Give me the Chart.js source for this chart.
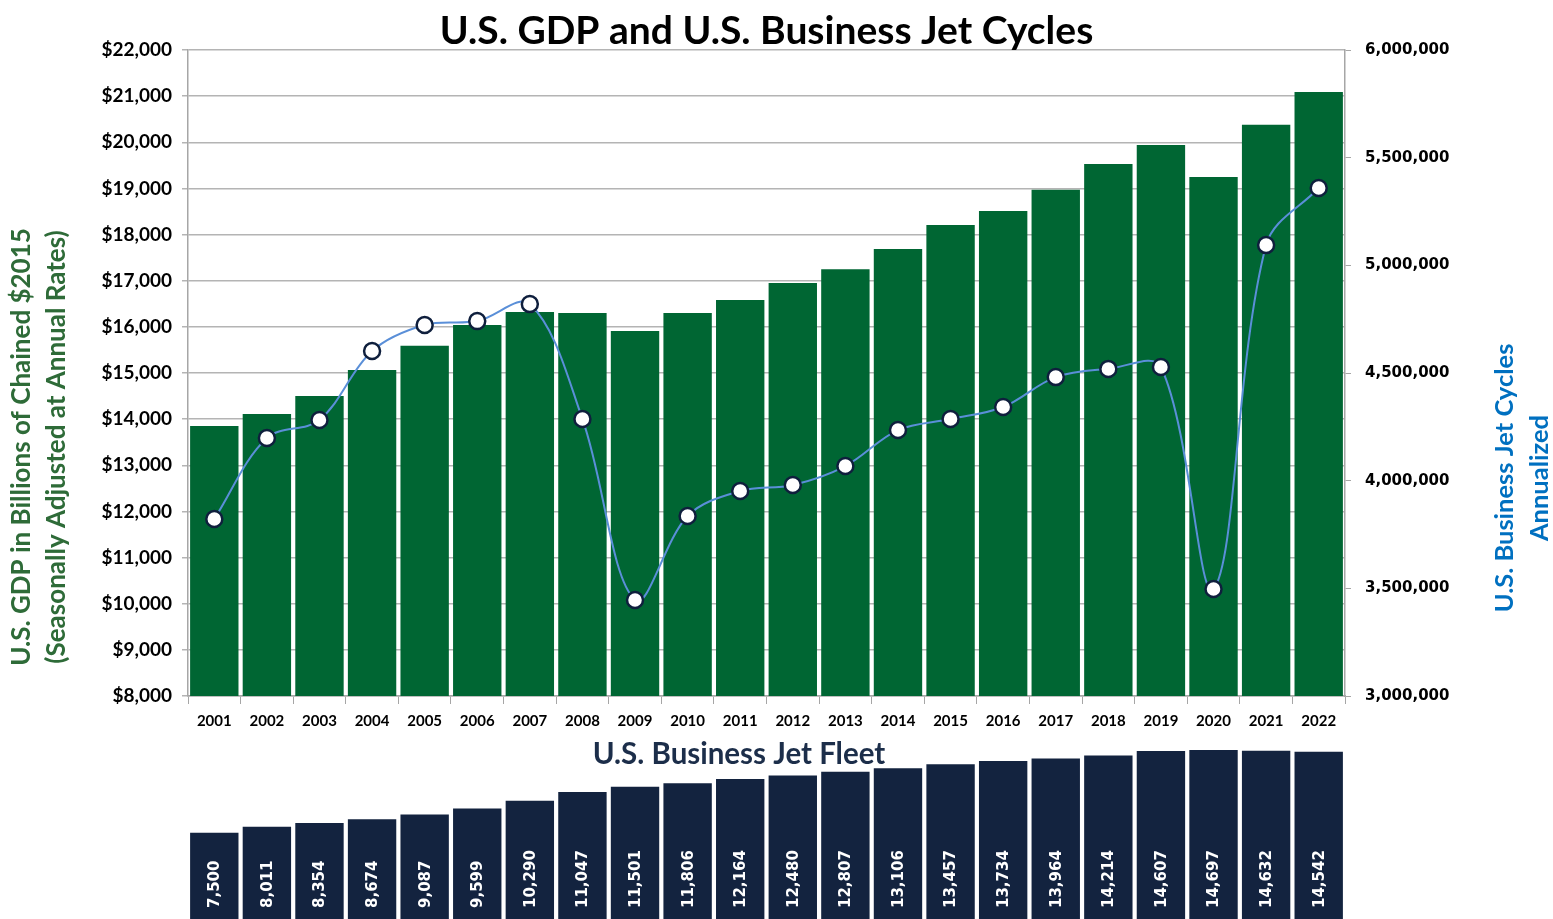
<!DOCTYPE html>
<html>
<head>
<meta charset="utf-8">
<script src="https://cdn.jsdelivr.net/npm/chart.js@4.4.1/dist/chart.umd.min.js"></script>
<style>
  html, body { margin: 0; padding: 0; background: #ffffff; }
  #wrap { position: relative; width: 1553px; height: 919px; overflow: hidden; background: #fff; }
  #c1 { position: absolute; left: 0; top: 0; }
  #c2 { position: absolute; left: 0; top: 730px; }
</style>
</head>
<body>
<div id="wrap">
  <canvas id="c2" width="1553" height="189"></canvas>
  <canvas id="c1" width="1553" height="740"></canvas>
</div>
<script>
// ---- Data ----
const years = ['2001','2002','2003','2004','2005','2006','2007','2008','2009','2010','2011',
               '2012','2013','2014','2015','2016','2017','2018','2019','2020','2021','2022'];
const gdpBillions = [13850, 14110, 14500, 15065, 15590, 16040, 16320, 16300, 15910, 16300, 16580,
                     16950, 17250, 17690, 18210, 18510, 18970, 19530, 19940, 19250, 20380, 21090];
const jetCycles = [3822000, 4198000, 4282000, 4602000, 4723000, 4741000, 4820000, 4286000, 3446000, 3836000, 3952000,
                   3980000, 4068000, 4235000, 4286000, 4342000, 4481000, 4519000, 4528000, 3497000, 5094000, 5359000];
const jetFleet = [7500, 8011, 8354, 8674, 9087, 9599, 10290, 11047, 11501, 11806, 12164,
                  12480, 12807, 13106, 13457, 13734, 13964, 14214, 14607, 14697, 14632, 14542];

const chartTitle = 'U.S. GDP and U.S. Business Jet Cycles';
const leftTitle = ['U.S. GDP in Billions of Chained $2015', '(Seasonally Adjusted at Annual Rates)'];
const rightTitle = ['U.S. Business Jet Cycles', 'Annualized'];
const fleetTitle = 'U.S. Business Jet Fleet';

const CAL = 'Lato, "Open Sans", sans-serif';
const fmt = v => Number(v).toLocaleString('en-US');

// ---- plugin: rotated axis titles for chart 1 ----
const axisTitles = {
  id: 'axisTitles',
  afterDraw(chart) {
    const ctx = chart.ctx;
    const a = chart.chartArea;
    ctx.save();
    ctx.font = 'bold 26px ' + CAL;
    ctx.textAlign = 'center';
    ctx.textBaseline = 'middle';
    // left title
    ctx.fillStyle = '#2E6B38';
    leftTitle.forEach((t, i) => {
      ctx.save();
      ctx.translate(a.left - 166 + i * 35, 447);
      ctx.rotate(-Math.PI / 2);
      ctx.fillText(t, 0, 0);
      ctx.restore();
    });
    // right title
    ctx.font = 'bold 25.5px ' + CAL;
    ctx.fillStyle = '#0070C0';
    rightTitle.forEach((t, i) => {
      ctx.save();
      ctx.translate(a.right + 160 + i * 35, 478);
      ctx.rotate(-Math.PI / 2);
      ctx.fillText(t, 0, 0);
      ctx.restore();
    });
    ctx.restore();
  }
};

new Chart(document.getElementById('c1'), {
  data: {
    labels: years,
    datasets: [
      {
        type: 'line',
        label: 'Jet Cycles',
        data: jetCycles,
        yAxisID: 'y1',
        borderColor: '#5A8FD8',
        borderWidth: 2,
        tension: 0.35,
        pointRadius: 8,
        pointBackgroundColor: '#ffffff',
        pointBorderColor: '#0F1F3D',
        pointBorderWidth: 2.5,
        order: 1
      },
      {
        type: 'bar',
        label: 'GDP',
        data: gdpBillions,
        yAxisID: 'y',
        backgroundColor: '#006633',
        borderWidth: 0,
        barPercentage: 0.92,
        categoryPercentage: 1.0,
        order: 2
      }
    ]
  },
  options: {
    responsive: false,
    animation: false,
    layout: { padding: 0 },
    plugins: {
      legend: { display: false },
      tooltip: { enabled: false },
      title: {
        display: true,
        fullSize: false,
        text: chartTitle,
        color: '#000000',
        font: { family: CAL, size: 39, weight: 'bold', lineHeight: 1 },
        padding: { top: 12, bottom: -1 }
      }
    },
    scales: {
      x: {
        offset: true,
        grid: { offset: true, drawOnChartArea: false, drawTicks: true, tickLength: 8, color: '#A6A6A6' },
        border: { display: true, color: '#A6A6A6', width: 1.5 },
        ticks: { color: '#000', padding: 8, font: { family: CAL, size: 15, weight: 'bold' }, maxRotation: 0 },
        afterFit: s => { s.height = 44; }
      },
      y: {
        position: 'left',
        min: 8000, max: 22000,
        ticks: { stepSize: 1000, color: '#000', padding: 10, font: { family: CAL, size: 19, weight: 'bold' },
                 callback: v => '$' + fmt(v) },
        grid: { color: '#B4B4B4', lineWidth: 1.5, tickLength: 6 },
        border: { display: true, color: '#A6A6A6', width: 1.5 },
        afterFit: s => { s.width = 188; }
      },
      y1: {
        position: 'right',
        min: 3000000, max: 6000000,
        ticks: { stepSize: 500000, color: '#000', padding: 14, font: { family: '"DejaVu Sans"', size: 15, weight: 'bold' },
                 callback: v => fmt(v) },
        grid: { drawOnChartArea: false, tickLength: 6, color: '#A6A6A6' },
        border: { display: true, color: '#A6A6A6', width: 1.5 },
        afterFit: s => { s.width = 208; }
      }
    }
  },
  plugins: [axisTitles]
});

// ---- plugin: fleet labels and title for chart 2 ----
const fleetText = {
  id: 'fleetText',
  afterDatasetsDraw(chart) {
    const ctx = chart.ctx;
    const meta = chart.getDatasetMeta(0);
    ctx.save();
    ctx.font = 'bold 15px "DejaVu Sans"';
    ctx.fillStyle = '#ffffff';
    ctx.textAlign = 'left';
    ctx.textBaseline = 'middle';
    meta.data.forEach((bar, i) => {
      ctx.save();
      ctx.translate(bar.x + 1, bar.base - 11);
      ctx.rotate(-Math.PI / 2);
      ctx.fillText(fmt(jetFleet[i]), 0, 0);
      ctx.restore();
    });
    ctx.font = 'bold 29.5px ' + CAL;
    ctx.fillStyle = '#1C2E4A';
    ctx.textAlign = 'center';
    ctx.fillText(fleetTitle, 739, 24);
    ctx.restore();
  }
};

new Chart(document.getElementById('c2'), {
  type: 'bar',
  data: {
    labels: years,
    datasets: [{
      label: 'Fleet',
      data: jetFleet,
      backgroundColor: '#13233F',
      barPercentage: 0.92,
      categoryPercentage: 1.0
    }]
  },
  options: {
    responsive: false,
    animation: false,
    layout: { padding: { left: 188, right: 208, top: 5, bottom: 0 } },
    plugins: { legend: { display: false }, tooltip: { enabled: false }, title: { display: false } },
    scales: {
      x: { display: false, offset: true },
      y: { display: false, min: 0, max: 16000 }
    }
  },
  plugins: [fleetText]
});
</script>
</body>
</html>
